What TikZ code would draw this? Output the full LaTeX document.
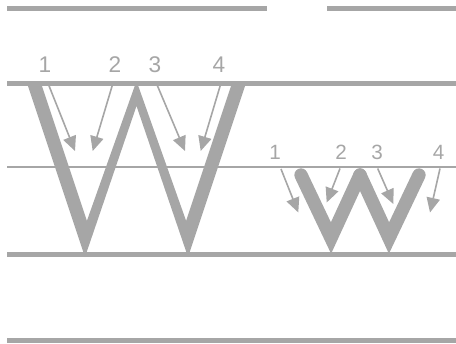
\documentclass[tikz,border=0pt]{standalone}
\usepackage{fontspec}
\setmainfont{Liberation Sans}
\usetikzlibrary{arrows.meta}
\definecolor{g}{RGB}{166,166,166}
\begin{document}
\begin{tikzpicture}[x=0.75pt,y=-0.75pt,
  thickrule/.style={draw=g,line width=3.75pt},
  thinrule/.style={draw=g,line width=1.6pt},
  arr/.style={draw=g,line width=1.2pt,-{Triangle[length=11pt,width=10pt]}},
  lbl/.style={text=g,font=\fontsize{17}{17}\selectfont,inner sep=0pt},
  slbl/.style={text=g,font=\fontsize{15.5}{15.5}\selectfont,inner sep=0pt},
  smallw/.style={draw=g,line width=10pt,line cap=round,line join=miter}]
\useasboundingbox (0,0) rectangle (456,343);
% big W
\fill[g] (27,83) -- (85,257) -- (136.5,106) -- (188,257) -- (246,83) -- (232,83)
  -- (186.1,220.8) -- (136.5,81) -- (86.9,220.8) -- (41,83) -- cycle;
% small w
\coordinate (wa) at (301,175);
\coordinate (wb) at (331,238);
\coordinate (wc) at (360,175);
\coordinate (wd) at (389,238);
\coordinate (we) at (419,175);
\draw[smallw] (wa) -- (wb) -- (wc);
\draw[smallw] (wc) -- (wd) -- (we);
% rules
\draw[thickrule] (7,8) -- (267,8);
\draw[thickrule] (327,8) -- (456,8);
\draw[thickrule] (7,83) -- (456,83);
\draw[thinrule] (7,167) -- (456,167);
\draw[thickrule] (7,254) -- (456,254);
\draw[thickrule] (7,340) -- (456,340);
% big labels
\node[lbl] (n1) at (45,65) {1};
\node[lbl] (n2) at (115,65) {2};
\node[lbl] (n3) at (155,65) {3};
\node[lbl] (n4) at (219,65) {4};
% small labels
\node[slbl] (m1) at (275,152.5) {1};
\node[slbl] (m2) at (341,152.5) {2};
\node[slbl] (m3) at (377,152.5) {3};
\node[slbl] (m4) at (438.5,152.5) {4};
% big arrows
\coordinate (a1s) at (48.3,84); \coordinate (a1e) at (75,151);
\coordinate (a2s) at (112.7,84); \coordinate (a2e) at (92.7,151);
\coordinate (a3s) at (156.7,84); \coordinate (a3e) at (185,151);
\coordinate (a4s) at (220.7,84); \coordinate (a4e) at (200.7,151);
\draw[arr] (a1s) -- (a1e);
\draw[arr] (a2s) -- (a2e);
\draw[arr] (a3s) -- (a3e);
\draw[arr] (a4s) -- (a4e);
% small arrows
\coordinate (b1s) at (281,169); \coordinate (b1e) at (298.3,212.5);
\coordinate (b2s) at (340,168.5); \coordinate (b2e) at (326.7,202.5);
\coordinate (b3s) at (377.7,168.5); \coordinate (b3e) at (393.3,204);
\coordinate (b4s) at (440,168.5); \coordinate (b4e) at (430,212.5);
\draw[arr] (b1s) -- (b1e);
\draw[arr] (b2s) -- (b2e);
\draw[arr] (b3s) -- (b3e);
\draw[arr] (b4s) -- (b4e);
\end{tikzpicture}
\end{document}
